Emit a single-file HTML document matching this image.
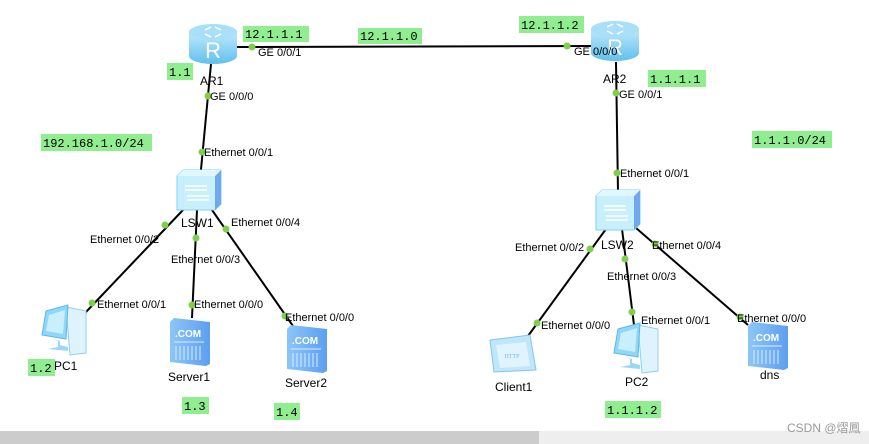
<!DOCTYPE html>
<html><head><meta charset="utf-8"><style>
html,body{margin:0;padding:0;background:#fff;}
svg{display:block;}
.p{font-family:"Liberation Sans",sans-serif;font-size:11px;fill:#000;}
.n{font-family:"Liberation Sans",sans-serif;font-size:12px;fill:#000;}
.g{font-family:"Liberation Mono","DejaVu Sans Mono",monospace;font-size:12px;fill:#000;}
</style></head><body>
<svg width="869" height="444" viewBox="0 0 869 444" xmlns="http://www.w3.org/2000/svg">
<defs>
<linearGradient id="rt" x1="0" y1="0" x2="0" y2="1"><stop offset="0" stop-color="#bfe9fb"/><stop offset="1" stop-color="#5fc0ee"/></linearGradient>
<linearGradient id="sv" x1="0" y1="0" x2="1" y2="0"><stop offset="0" stop-color="#8cc6f7"/><stop offset="1" stop-color="#5d9ff0"/></linearGradient>
<g id="router">
<path d="M-24,-12 L-24,12 A24,8 0 0 0 24,12 L24,-12 Z" fill="url(#rt)"/>
<ellipse cx="0" cy="-12" rx="24" ry="8" fill="#a9e0f8"/>
<text x="0" y="14" text-anchor="middle" font-family="Liberation Sans,sans-serif" font-size="22" fill="#fff">R</text>
<path d="M-8,-14 l6,-3 M8,-14 l-6,-3 M-8,-10 l6,3 M8,-10 l-6,3" stroke="#fff" stroke-width="1.5"/>
</g>
<g id="switch">
<path d="M0,6 L6,0 L44,0 L44,34 L38,40 L0,40 Z" fill="#c8f0fc" stroke="#7fd0f2"/>
<path d="M38,6 L44,0 L44,34 L38,40 Z" fill="#6fa8f0"/>
<path d="M0,6 L6,0 L44,0 L38,6 Z" fill="#e0f7fe"/>
<path d="M8,16 h22 M8,20 h22 M10,26 h22 M10,30 h22" stroke="#fff" stroke-width="1.5"/>
</g>
<g id="server">
<path d="M0,4 L4,0 L40,4 L40,46 L36,48 L0,44 Z" fill="url(#sv)"/>
<text x="18" y="19" text-anchor="middle" font-family="Liberation Sans,sans-serif" font-weight="bold" font-size="10" fill="#fff">.COM</text>
<path d="M4,24 h30 M6,28 v14 M10,28 v14 M14,28 v14 M18,28 v14 M22,28 v14 M26,28 v14 M30,28 v14" stroke="#d8ecff" stroke-width="1"/>
</g>
<g id="pc">
<path d="M26,2 L46,6 L46,48 L30,50 Z" fill="#dff3fd" stroke="#8fd0f2"/>
<path d="M6,6 L28,0 L26,34 L2,30 Z" fill="#8dd8f8" stroke="#5fb6ea"/>
<path d="M9,10 L25,5 L23,29 L6,26 Z" fill="#c9eefc"/>
<path d="M12,34 L18,36 L18,42 L8,44 L28,46 L28,42 L20,40 L20,36" fill="#9bd8f6"/>
</g>
</defs>
<rect x="0" y="431" width="539" height="13" fill="#cccccc"/>
<rect x="539" y="431" width="330" height="13" fill="#eeeeee"/>
<g stroke="#000" stroke-width="2" fill="none">
<line x1="237" y1="47" x2="591" y2="46"/>
<line x1="211" y1="64" x2="200" y2="180"/>
<line x1="183" y1="210" x2="86" y2="312"/>
<line x1="197" y1="210" x2="192" y2="318"/>
<line x1="212" y1="210" x2="293" y2="326"/>
<line x1="616" y1="62" x2="618" y2="192"/>
<line x1="606" y1="229" x2="528" y2="336"/>
<line x1="622" y1="229" x2="634" y2="325"/>
<line x1="636" y1="228" x2="748" y2="325"/>
</g>
<use href="#router" x="213" y="44"/>
<use href="#router" x="615" y="41"/>
<use href="#switch" x="177" y="170"/>
<use href="#switch" x="596" y="190"/>
<use href="#pc" x="40" y="305"/>
<use href="#server" x="170" y="318"/>
<use href="#server" x="287" y="325"/>
<use href="#pc" x="612" y="323"/>
<use href="#server" x="748" y="322"/>
<g>
<path d="M490,340 L530,335 L536,370 L494,372 Z" fill="#bfe6fb" stroke="#7fc6f0"/>
<path d="M496,345 L526,342 L530,366 L500,368 Z" fill="#dff4fe"/>
<text x="512" y="358" text-anchor="middle" font-family="Liberation Serif,serif" font-size="6" fill="#7fb6e6">HTTP</text>
</g>
<g fill="#7ed04a">
<circle cx="252" cy="47" r="3.5"/><circle cx="567" cy="46" r="3.5"/>
<circle cx="208" cy="96" r="3.5"/><circle cx="202" cy="152" r="3.5"/>
<circle cx="165" cy="225" r="3.5"/><circle cx="92" cy="303" r="3.5"/>
<circle cx="196" cy="238" r="3.5"/><circle cx="192" cy="305" r="3.5"/>
<circle cx="226" cy="229" r="3.5"/><circle cx="285" cy="316" r="3.5"/>
<circle cx="616" cy="93" r="3.5"/><circle cx="617" cy="173" r="3.5"/>
<circle cx="590" cy="249" r="3.5"/><circle cx="537" cy="323" r="3.5"/>
<circle cx="625" cy="259" r="3.5"/><circle cx="632" cy="312" r="3.5"/>
<circle cx="655" cy="244" r="3.5"/><circle cx="740" cy="317" r="3.5"/>
</g>
<g class="p">
<text x="258" y="56">GE 0/0/1</text>
<text x="210" y="100">GE 0/0/0</text>
<text x="204" y="156">Ethernet 0/0/1</text>
<text x="90" y="243">Ethernet 0/0/2</text>
<text x="231" y="226">Ethernet 0/0/4</text>
<text x="171" y="263">Ethernet 0/0/3</text>
<text x="97" y="308">Ethernet 0/0/1</text>
<text x="194" y="308">Ethernet 0/0/0</text>
<text x="285" y="321">Ethernet 0/0/0</text>
<text x="574" y="55">GE 0/0/0</text>
<text x="619" y="98">GE 0/0/1</text>
<text x="620" y="177">Ethernet 0/0/1</text>
<text x="515" y="251">Ethernet 0/0/2</text>
<text x="652" y="249">Ethernet 0/0/4</text>
<text x="607" y="280">Ethernet 0/0/3</text>
<text x="541" y="329">Ethernet 0/0/0</text>
<text x="641" y="324">Ethernet 0/0/1</text>
<text x="737" y="322">Ethernet 0/0/0</text>
</g>
<g class="n">
<text x="200" y="85">AR1</text>
<text x="603" y="83">AR2</text>
<text x="181" y="227">LSW1</text>
<text x="601" y="249">LSW2</text>
<text x="54" y="370">PC1</text>
<text x="168" y="381">Server1</text>
<text x="285" y="387">Server2</text>
<text x="495" y="391">Client1</text>
<text x="625" y="386">PC2</text>
<text x="760" y="379">dns</text>
</g>
<g fill="#90ee90">
<rect x="167" y="63" width="26" height="17"/>
<rect x="243" y="26" width="66" height="16"/>
<rect x="358" y="28" width="64" height="16"/>
<rect x="41" y="134" width="111" height="17"/>
<rect x="28" y="359" width="27" height="17"/>
<rect x="182" y="397" width="27" height="17"/>
<rect x="274" y="403" width="26" height="17"/>
<rect x="519" y="16" width="65" height="17"/>
<rect x="648" y="70" width="58" height="17"/>
<rect x="752" y="131" width="80" height="17"/>
<rect x="605" y="401" width="56" height="17"/>
</g>
<g class="g">
<text x="169" y="76">1.1</text>
<text x="245" y="38">12.1.1.1</text>
<text x="360" y="40">12.1.1.0</text>
<text x="43" y="147">192.168.1.0/24</text>
<text x="30" y="372">1.2</text>
<text x="184" y="410">1.3</text>
<text x="276" y="416">1.4</text>
<text x="521" y="29">12.1.1.2</text>
<text x="650" y="83">1.1.1.1</text>
<text x="754" y="144">1.1.1.0/24</text>
<text x="607" y="414">1.1.1.2</text>
</g>
<text x="787" y="432" font-family="Liberation Sans,'Noto Sans CJK SC',sans-serif" font-size="12" fill="#999">CSDN @熠鳳</text>
</svg>
</body></html>
